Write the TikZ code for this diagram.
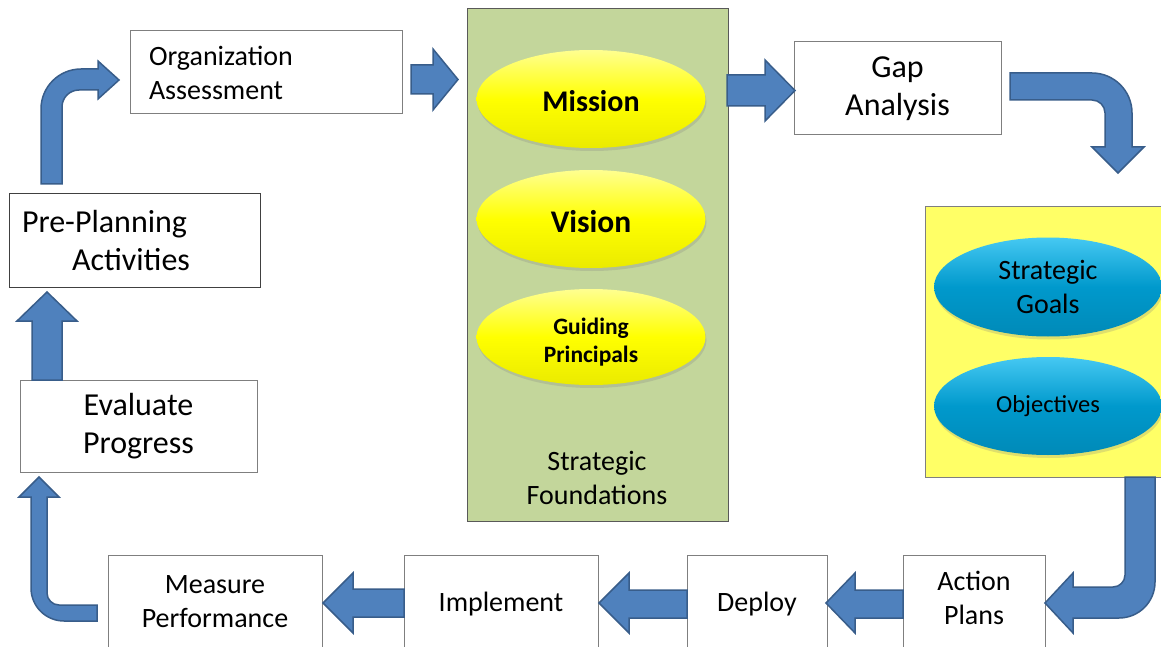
\documentclass[tikz,border=0pt]{standalone}
\usepackage{fontspec}
\setmainfont{Carlito}
\usetikzlibrary{shapes.geometric,shadows}
\definecolor{arrowfill}{HTML}{4F81BD}
\definecolor{arrowline}{HTML}{385D8A}
\definecolor{sfgreen}{HTML}{C3D69B}
\definecolor{sgyellow}{HTML}{FFFF66}
\definecolor{boxline}{HTML}{7F7F7F}
\definecolor{ellblue}{HTML}{0099CC}
\definecolor{ellbluetop}{HTML}{45C8F2}
\definecolor{ellyel}{HTML}{FFFF00}
\definecolor{ellyeltop}{HTML}{FFFF90}
\begin{document}
\begin{tikzpicture}[x=1pt,y=-1pt,
  every node/.style={inner sep=0pt, outer sep=0pt},
  whitebox/.style={draw=boxline, line width=1pt, fill=white, rectangle, align=center},
  blockarrow/.style={fill=arrowfill, draw=arrowline, line width=1.5pt, line join=miter},
  yelell/.style={ellipse, minimum width=229pt, minimum height=98pt, align=center,
     top color=ellyeltop, bottom color=ellyel!92!black, middle color=ellyel,
     drop shadow={opacity=0.25, shadow xshift=1pt, shadow yshift=-3pt}},
  blueell/.style={ellipse, minimum width=228pt, minimum height=99pt, align=center,
     top color=ellbluetop, bottom color=ellblue!90!black, middle color=ellblue,
     drop shadow={opacity=0.25, shadow xshift=1pt, shadow yshift=-3pt}},
  txtA/.style={font=\fontsize{28}{34}\selectfont},
  txtB/.style={font=\fontsize{32}{38.5}\selectfont}
]
\useasboundingbox (0,0) rectangle (1161,647);
\clip (0,0) rectangle (1161,647);
\fill[white] (0,0) rectangle (1161,647);

% containers
\node[draw=black!65, line width=1pt, fill=sfgreen, minimum width=261pt, minimum height=512pt] (found) at (597.5,265) {};
\node[draw=boxline, line width=1pt, fill=sgyellow, minimum width=250pt, minimum height=271pt] (goalsbox) at (1050,341.5) {};

% ellipses
\node[yelell] (mission) at (591,99) {};
\node[font=\fontsize{30}{36}\selectfont\bfseries] (missiontxt) at (591,101.5) {Mission};
\node[yelell] (vision) at (591,219) {};
\node[font=\fontsize{31.5}{38}\selectfont\bfseries] (visiontxt) at (591,222) {Vision};
\node[yelell, minimum height=96pt] (guiding) at (591,337) {};
\node[font=\fontsize{23.5}{28}\selectfont\bfseries, align=center] (guidingtxt) at (591,342.5) {Guiding\\Principals};
\node[txtA, align=center] (foundlbl) at (597,477.5) {Strategic\\Foundations};

\node[blueell, font=\fontsize{28}{34}\selectfont] (goals) at (1048,287) {Strategic\\Goals};
\node[blueell, minimum height=98pt, font=\fontsize{24.5}{30}\selectfont] (objectives) at (1048,406) {Objectives};

% white boxes
\node[whitebox, txtA, minimum width=272pt, minimum height=83pt, text width=234pt, align=left] (org) at (266,72.5) {Organization\\Assessment};
\node[whitebox, draw=black!75, txtB, minimum width=251pt, minimum height=93pt, text width=225pt, align=left] (pre) at (134.5,240.5) {Pre-Planning\\\hspace*{50pt}Activities};
\node[whitebox, txtB, minimum width=237pt, minimum height=92pt] (eval) at (138.5,426) {Evaluate\\Progress};
\node[whitebox, txtB, minimum width=207pt, minimum height=93pt] (gap) at (897.5,88.5) {Gap\\Analysis};

\node[whitebox, txtA, minimum width=214pt, minimum height=94pt] (measure) at (215,602) {Measure\\Performance};
\node[whitebox, minimum width=194pt, minimum height=94pt] (implement) at (501,602) {};
\node[txtA] (implementtxt) at ([yshift=-2pt]implement.center) {Implement};
\node[whitebox, minimum width=140pt, minimum height=94pt] (deploy) at (757,602) {};
\node[txtA] (deploytxt) at ([yshift=-2pt]deploy.center) {Deploy};
\node[whitebox, minimum width=142pt, minimum height=94pt] (action) at (974,602) {};
\node[txtA, align=center] (actiontxt) at ([yshift=4pt]action.center) {Action\\Plans};

% straight block arrows
\draw[blockarrow] (411,65) -- (433,65) -- (433,49) -- (458,79.5) -- (433,110) -- (433,94) -- (411,94) -- cycle;
\draw[blockarrow] (727,75) -- (765,75) -- (765,60) -- (795,90.5) -- (765,121) -- (765,106) -- (727,106) -- cycle;
\draw[blockarrow] (903,590) -- (855,590) -- (855,573) -- (826,603) -- (855,633) -- (855,618) -- (903,618) -- cycle;
\draw[blockarrow] (687,590) -- (629,590) -- (629,573) -- (599,603) -- (629,633) -- (629,618) -- (687,618) -- cycle;
\draw[blockarrow] (404,589) -- (353,589) -- (353,573) -- (323,603) -- (353,633) -- (353,617) -- (404,617) -- cycle;
\draw[blockarrow] (32,380) -- (32,321) -- (17,321) -- (47,292) -- (77,321) -- (62,321) -- (62,380) -- cycle;

% bent block arrows
\draw[blockarrow] (1010,73) -- (1092,73) .. controls (1114.1,73) and (1132,90.9) .. (1132,113)
  -- (1132,147) -- (1144,147) -- (1118,173) -- (1092,147) -- (1105,147) -- (1105,113)
  .. controls (1105,105.8) and (1099.2,100) .. (1092,100) -- (1010,100) -- cycle;
\draw[blockarrow] (1125,477) -- (1155,477) -- (1155,582) .. controls (1155,601.9) and (1138.9,618) .. (1119,618)
  -- (1073,618) -- (1073,633) -- (1045,603) -- (1073,573) -- (1073,587) -- (1113,587)
  .. controls (1119.6,587) and (1125,581.6) .. (1125,575) -- cycle;
\draw[blockarrow] (97,621) -- (64,621) .. controls (45.8,621) and (31,606.2) .. (31,588)
  -- (31,497) -- (19,497) -- (39,477) -- (59,497) -- (47,497) -- (47,593)
  .. controls (47,599.6) and (52.4,605) .. (59,605) -- (97,605) -- cycle;
\draw[blockarrow] (41,184) -- (41,109) .. controls (41,86.9) and (58.9,69) .. (81,69)
  -- (98,69) -- (98,61) -- (119,80) -- (98,99) -- (98,90) -- (79,90)
  .. controls (69.6,90) and (62,97.6) .. (62,107) -- (62,184) -- cycle;
\end{tikzpicture}
\end{document}
